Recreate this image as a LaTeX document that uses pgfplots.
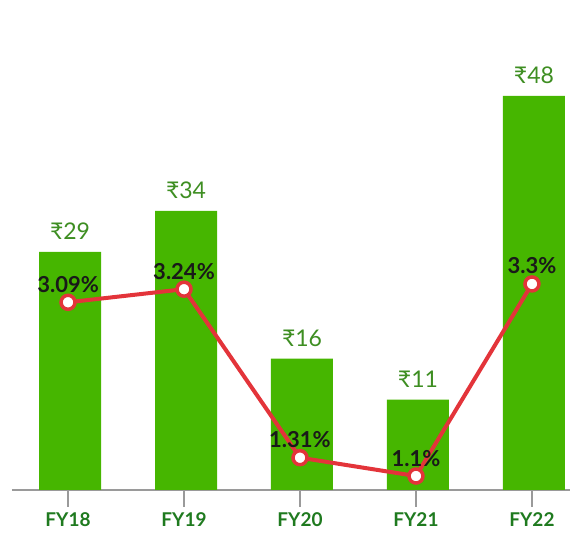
\documentclass[border=0pt]{standalone}
\usepackage{pgfplots}
\pgfplotsset{compat=1.18}
\usepackage{fontspec}
\setmainfont{Lato}
\definecolor{barg}{HTML}{46B600}
\definecolor{lblg}{HTML}{3E8E22}
\definecolor{tickg}{HTML}{1F7A1F}
\definecolor{axgray}{HTML}{9A9A9A}
\definecolor{lred}{HTML}{E3343A}
\begin{document}
\begin{tikzpicture}[x=1pt,y=1pt]
\begin{axis}[at={(0,0)}, anchor=south west, scale only axis, width=558pt, height=454pt,
  xmin=-0.483, xmax=4.328, ymin=0, ymax=55.3,
  axis x line*=bottom, axis y line=none,
  axis line style={draw=axgray, line width=1.5pt, -},
  xtick={0,1,2,3,4}, xticklabels={FY18,FY19,FY20,FY21,FY22},
  x tick style={draw=axgray, line width=1.5pt},
  major tick length=17pt, tick align=outside, xtick pos=bottom,
  xticklabel style={font=\bfseries\fontsize{19}{19}\selectfont, text=tickg, yshift=-2pt},
  ybar, bar width=62pt, bar shift=2pt, clip=false,
  point meta=explicit symbolic,
  nodes near coords={₹\pgfplotspointmeta},
  every node near coord/.append style={font=\fontsize{23}{23}\selectfont, text=lblg, anchor=base, yshift=12pt, inner sep=0pt},
]
\addplot[fill=barg, draw=none] coordinates {(0,29)[29] (1,34)[34] (2,16)[16] (3,11)[11] (4,48)[48]};
\end{axis}
\begin{axis}[at={(0,0)}, anchor=south west, scale only axis, width=558pt, height=454pt,
  xmin=-0.483, xmax=4.328, ymin=0.94, ymax=6.14, hide axis, clip=false]
\addplot[color=lred, line width=4pt, mark=*, mark size=7pt,
  mark options={fill=white, draw=lred, line width=3.5pt},
  point meta=explicit symbolic,
  nodes near coords,
  every node near coord/.append style={font=\bfseries\fontsize{22}{22}\selectfont, text=black!90, anchor=base, yshift=10pt, inner sep=0pt},
] coordinates {(0,3.09)[3.09\%] (1,3.24)[3.24\%] (2,1.31)[1.31\%] (3,1.1)[1.1\%] (4,3.3)[3.3\%]};
\end{axis}
\pgfresetboundingbox
\path[use as bounding box] (-12,-44) rectangle (558,490);
\end{tikzpicture}
\end{document}
